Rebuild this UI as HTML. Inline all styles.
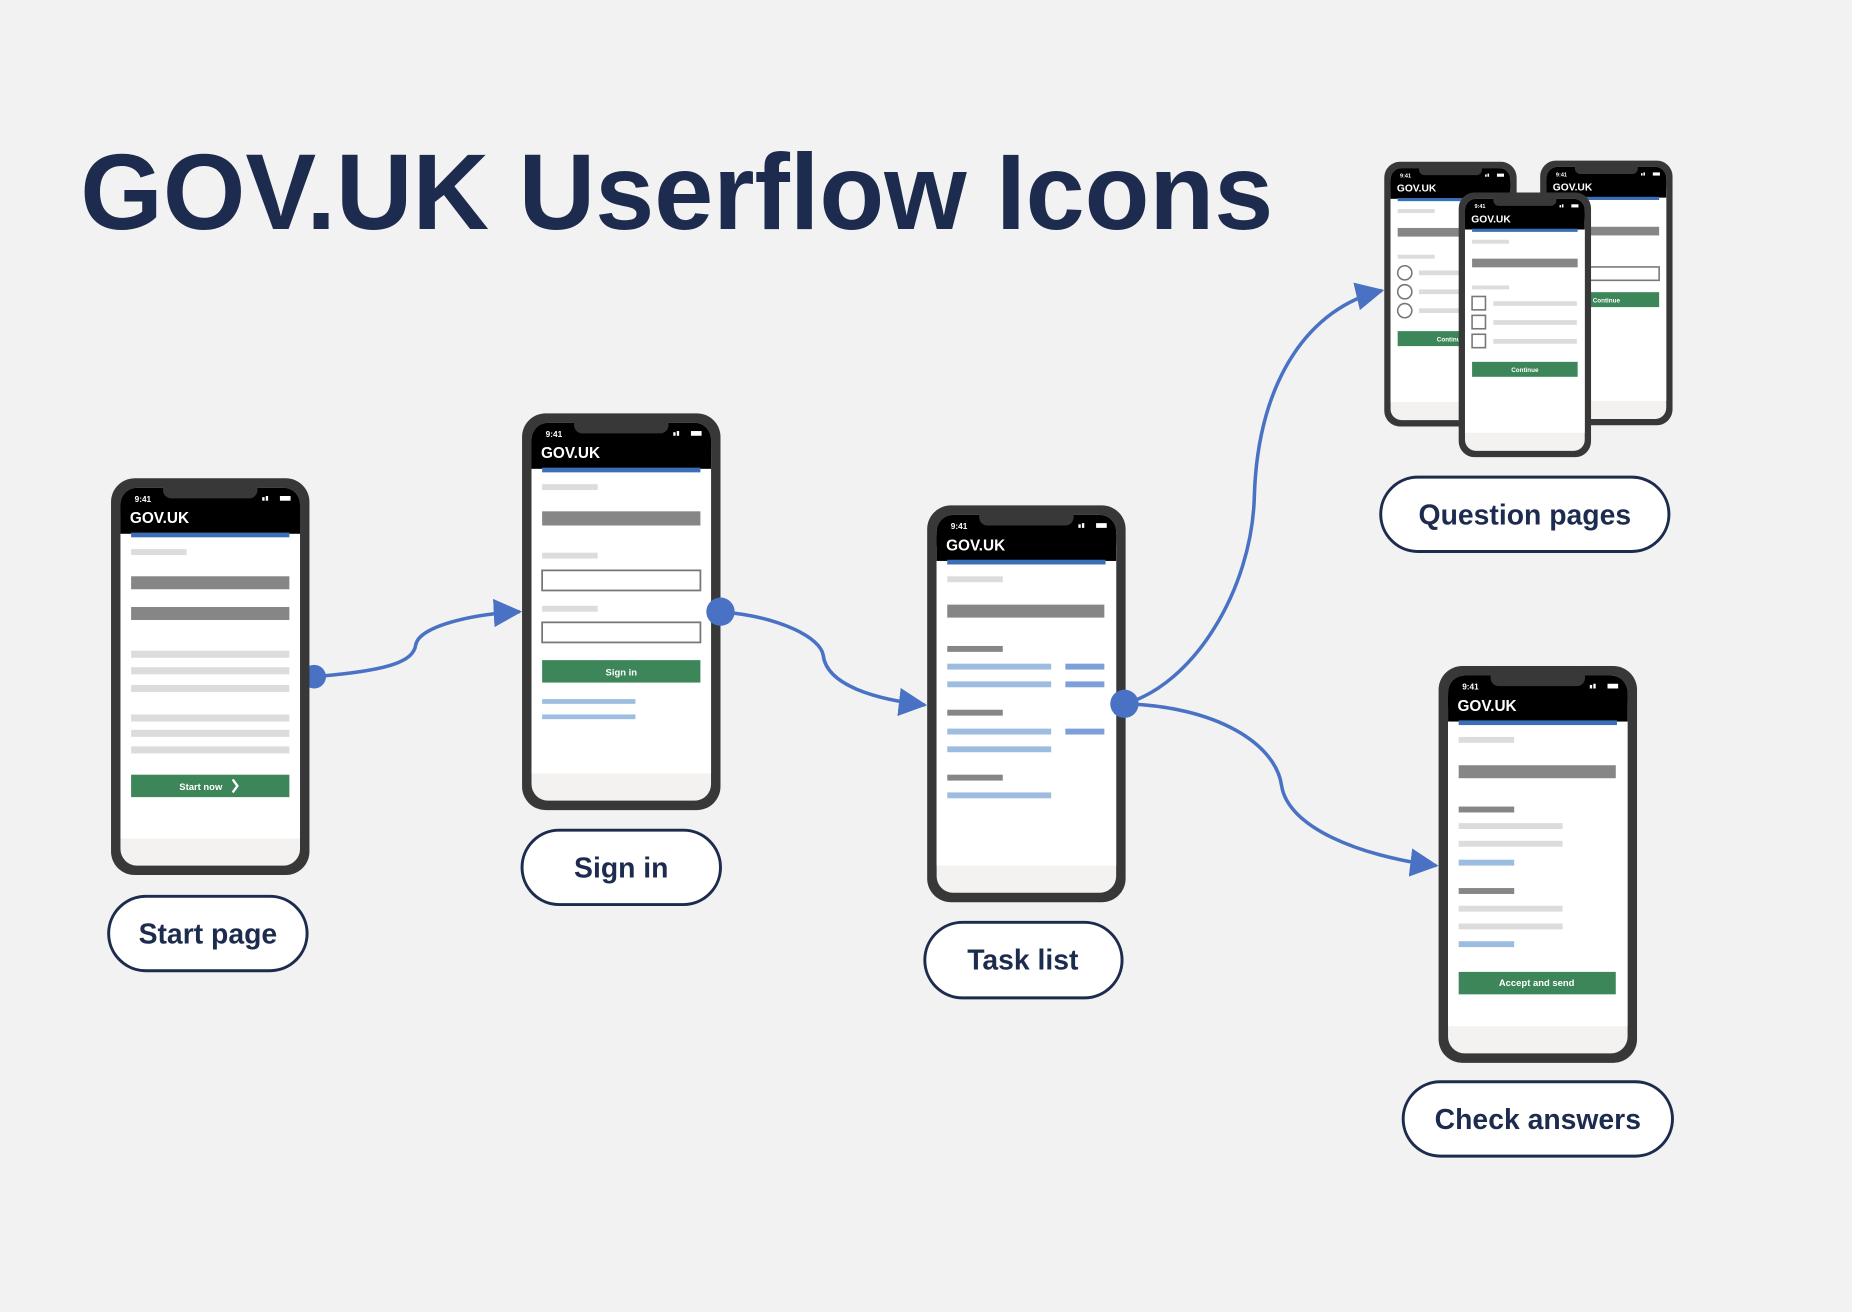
<!DOCTYPE html>
<html><head><meta charset="utf-8"><style>
html,body{margin:0;padding:0;background:#f2f2f2;}
svg{display:block;}
text{font-family:"Liberation Sans",sans-serif;}
</style></head><body>
<svg width="1852" height="1312" viewBox="0 0 1568 1111" preserveAspectRatio="none" xmlns="http://www.w3.org/2000/svg">
<defs>
<marker id="ar" markerUnits="userSpaceOnUse" markerWidth="26" markerHeight="24" refX="22" refY="12" orient="auto" viewBox="0 0 26 24">
<path d="M0,0 L24,12 L0,24 z" fill="#4a72c4"/>
</marker>
<g id="phone">
<rect x="0" y="0" width="168" height="336" rx="20" fill="#383838"/>
<rect x="8" y="8" width="152" height="320" rx="14" fill="#f3f2f1"/>
<rect x="8" y="30" width="152" height="275" fill="#fff"/>
<rect x="8" y="8" width="152" height="39" rx="14" fill="#000"/>
<rect x="8" y="25" width="152" height="22" fill="#000"/>
<rect x="44" y="2" width="80" height="15" rx="7" fill="#383838"/>
<text x="20" y="20" font-size="7" font-weight="bold" fill="#fff">9:41</text>
<rect x="128" y="16" width="2" height="3" fill="#fff"/><rect x="131" y="15" width="2" height="4" fill="#fff"/>
<rect x="143" y="15" width="9" height="4" fill="#fff"/>
<text x="16" y="38" font-size="13" font-weight="bold" fill="#fff">GOV.UK</text>
<rect x="17" y="46" width="134" height="4" fill="#3a6fb7"/>
<rect x="17" y="60" width="47" height="5" fill="#dcdcdc"/>
</g>
</defs>

<text x="68" y="194" font-size="91" font-weight="bold" fill="#1d2b4e" textLength="1010" lengthAdjust="spacingAndGlyphs">GOV.UK Userflow Icons</text>

<g fill="none" stroke="#4a72c4" stroke-width="3">
<path d="M266,573 C330,568 350,560 352,546 C355,530 400,520 440,518" marker-end="url(#ar)"/>
<path d="M610,518 C660,522 695,540 697,555 C700,580 740,592 783,597" marker-end="url(#ar)"/>
<path d="M952,596 C1010,580 1060,500 1062,420 C1065,320 1110,260 1170,246" marker-end="url(#ar)"/>
<path d="M952,596 C1030,598 1080,630 1085,665 C1090,700 1150,725 1216,733" marker-end="url(#ar)"/>
</g>

<circle cx="266" cy="573" r="10" fill="#4a72c4"/>
<g transform="translate(94,405)">
<use href="#phone"/>
<rect x="17" y="83" width="134" height="11" fill="#868686"/>
<rect x="17" y="109" width="134" height="11" fill="#868686"/>
<g fill="#dcdcdc"><rect x="17" y="146" width="134" height="6"/><rect x="17" y="160" width="134" height="6"/><rect x="17" y="175" width="134" height="6"/><rect x="17" y="200" width="134" height="6"/><rect x="17" y="213" width="134" height="6"/><rect x="17" y="227" width="134" height="6"/></g>
<rect x="17" y="251" width="134" height="19" fill="#3d8659"/>
<text x="76" y="264" font-size="8" font-weight="bold" fill="#fff" text-anchor="middle">Start now</text>
<path d="M103,255 L107,260.5 L103,266" stroke="#fff" stroke-width="2" fill="none"/>
</g>

<g transform="translate(442,350)">
<use href="#phone"/>
<rect x="17" y="83" width="134" height="12" fill="#868686"/>
<rect x="17" y="118" width="47" height="5" fill="#dcdcdc"/>
<rect x="17" y="133" width="134" height="17" fill="#fff" stroke="#777" stroke-width="1.5"/>
<rect x="17" y="163" width="47" height="5" fill="#dcdcdc"/>
<rect x="17" y="177" width="134" height="17" fill="#fff" stroke="#777" stroke-width="1.5"/>
<rect x="17" y="209" width="134" height="19" fill="#3d8659"/>
<text x="84" y="222" font-size="8" font-weight="bold" fill="#fff" text-anchor="middle">Sign in</text>
<rect x="17" y="242" width="79" height="4" fill="#9dbde0"/>
<rect x="17" y="255" width="79" height="4" fill="#9dbde0"/>
</g>
<circle cx="610" cy="518" r="12" fill="#4a72c4"/>

<g transform="translate(785,428)">
<use href="#phone"/>
<rect x="17" y="84" width="133" height="11" fill="#868686"/>
<g fill="#868686"><rect x="17" y="119" width="47" height="5"/><rect x="17" y="173" width="47" height="5"/><rect x="17" y="228" width="47" height="5"/></g>
<g fill="#9dbde0"><rect x="17" y="134" width="88" height="5"/><rect x="17" y="149" width="88" height="5"/><rect x="17" y="189" width="88" height="5"/><rect x="17" y="204" width="88" height="5"/><rect x="17" y="243" width="88" height="5"/></g>
<g fill="#7da0d8"><rect x="117" y="134" width="33" height="5"/><rect x="117" y="149" width="33" height="5"/><rect x="117" y="189" width="33" height="5"/></g>
</g>
<circle cx="952" cy="596" r="12" fill="#4a72c4"/>

<g transform="translate(1218,564)">
<use href="#phone"/>
<rect x="17" y="84" width="133" height="11" fill="#868686"/>
<g fill="#868686"><rect x="17" y="119" width="47" height="5"/><rect x="17" y="188" width="47" height="5"/></g>
<g fill="#dcdcdc"><rect x="17" y="133" width="88" height="5"/><rect x="17" y="148" width="88" height="5"/><rect x="17" y="203" width="88" height="5"/><rect x="17" y="218" width="88" height="5"/></g>
<g fill="#9dbde0"><rect x="17" y="164" width="47" height="5"/><rect x="17" y="233" width="47" height="5"/></g>
<rect x="17" y="259" width="133" height="19" fill="#3d8659"/>
<text x="83" y="271" font-size="8" font-weight="bold" fill="#fff" text-anchor="middle">Accept and send</text>
</g>

<g transform="translate(1172,137) scale(0.667)">
<use href="#phone"/>
<rect x="17" y="84" width="134" height="11" fill="#868686"/>
<rect x="17" y="118" width="47" height="5" fill="#dcdcdc"/>
<g fill="#fff" stroke="#777" stroke-width="2"><circle cx="26" cy="141" r="9"/><circle cx="26" cy="165" r="9"/><circle cx="26" cy="189" r="9"/></g>
<g fill="#dcdcdc"><rect x="44" y="138" width="100" height="6"/><rect x="44" y="162" width="100" height="6"/><rect x="44" y="186" width="100" height="6"/></g>
<rect x="17" y="215" width="134" height="19" fill="#3d8659"/>
<text x="84" y="228" font-size="8" font-weight="bold" fill="#fff" text-anchor="middle">Continue</text>
</g>
<g transform="translate(1304,136) scale(0.667)">
<use href="#phone"/>
<rect x="17" y="84" width="134" height="11" fill="#868686"/>
<rect x="17" y="135" width="134" height="17" fill="#fff" stroke="#777" stroke-width="2"/>
<rect x="17" y="167" width="134" height="19" fill="#3d8659"/>
<text x="84" y="180" font-size="8" font-weight="bold" fill="#fff" text-anchor="middle">Continue</text>
</g>
<g transform="translate(1235,163) scale(0.667)">
<use href="#phone"/>
<rect x="17" y="84" width="134" height="11" fill="#868686"/>
<rect x="17" y="118" width="47" height="5" fill="#dcdcdc"/>
<g fill="#fff" stroke="#777" stroke-width="2"><rect x="17" y="132" width="17" height="17"/><rect x="17" y="156" width="17" height="17"/><rect x="17" y="180" width="17" height="17"/></g>
<g fill="#dcdcdc"><rect x="44" y="138" width="106" height="6"/><rect x="44" y="162" width="106" height="6"/><rect x="44" y="186" width="106" height="6"/></g>
<rect x="17" y="215" width="134" height="19" fill="#3d8659"/>
<text x="84" y="228" font-size="8" font-weight="bold" fill="#fff" text-anchor="middle">Continue</text>
</g>

<g fill="#fff" stroke="#1d2b4e" stroke-width="2.5">
<rect x="92" y="759" width="168" height="63" rx="31.5"/>
<rect x="442" y="703" width="168" height="63" rx="31.5"/>
<rect x="783" y="781" width="167" height="64" rx="32"/>
<rect x="1169" y="404" width="244" height="63" rx="31.5"/>
<rect x="1188" y="916" width="228" height="63" rx="31.5"/>
</g>
<g font-size="24" font-weight="bold" fill="#1d2b4e" text-anchor="middle">
<text x="176" y="799">Start page</text>
<text x="526" y="743">Sign in</text>
<text x="866" y="821">Task list</text>
<text x="1291" y="444">Question pages</text>
<text x="1302" y="956">Check answers</text>
</g>
</svg>
</body></html>
